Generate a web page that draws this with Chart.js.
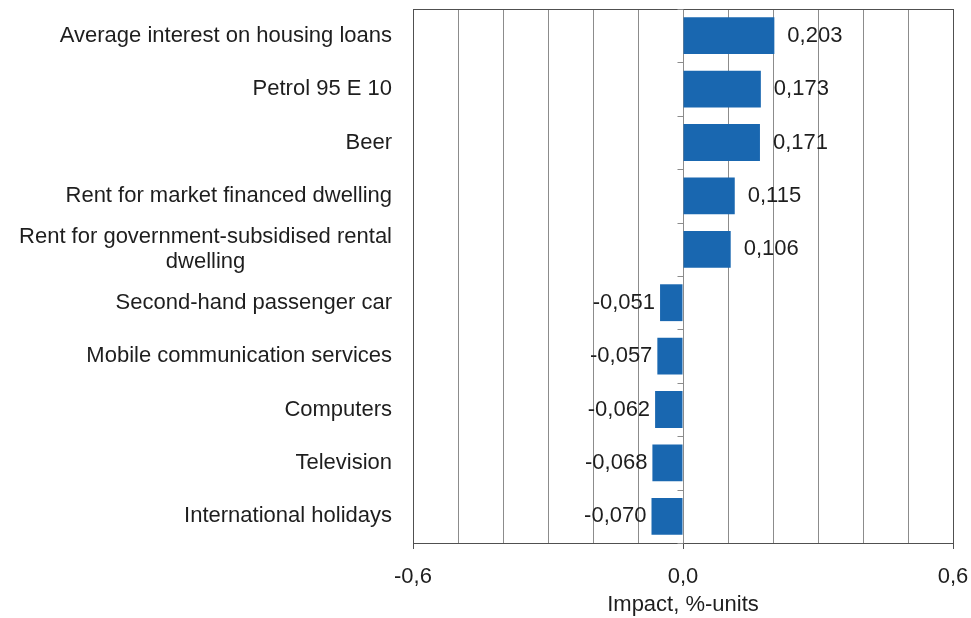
<!DOCTYPE html>
<html>
<head>
<meta charset="utf-8">
<script src="https://cdn.jsdelivr.net/npm/chart.js@4/dist/chart.umd.min.js"></script>
<style>
  body { margin: 0; background: #fff; }
</style>
</head>
<body>
<canvas id="myChart" width="971" height="618"></canvas>
<script>
// data block
const categories = [
  ["Average interest on housing loans"],
  ["Petrol 95 E 10"],
  ["Beer"],
  ["Rent for market financed dwelling"],
  ["Rent for government-subsidised rental", "dwelling"],
  ["Second-hand passenger car"],
  ["Mobile communication services"],
  ["Computers"],
  ["Television"],
  ["International holidays"],
];
const impacts = [0.203, 0.173, 0.171, 0.115, 0.106, -0.051, -0.057, -0.062, -0.068, -0.070];
const labeledTicks = [-0.6, 0, 0.6];
const labeledTickText = ["-0,6", "0,0", "0,6"];

const FONT = "'Liberation Sans', Arial, sans-serif";
const TEXT = "#1e1e1e";

function tickLabel(v) {
  const i = labeledTicks.findIndex((t) => Math.abs(t - v) < 1e-9);
  return i >= 0 ? labeledTickText[i] : "";
}

// plugin - frame, category labels, value labels
const decorations = {
  id: "decorations",
  afterDraw(chart) {
    const ctx = chart.ctx;
    const area = chart.chartArea;
    const x = chart.scales.x;
    const y = chart.scales.y;
    ctx.save();

    // plot frame
    ctx.strokeStyle = "#505050";
    ctx.lineWidth = 1;
    ctx.strokeRect(Math.round(area.left) + 0.5, Math.round(area.top) + 0.5,
      Math.round(area.right - area.left), Math.round(area.bottom - area.top));

    // small category ticks on zero line
    const zx = Math.round(x.getPixelForValue(0)) + 0.5;
    ctx.strokeStyle = "#8c8c8c";
    ctx.beginPath();
    for (let i = 0; i <= categories.length; i++) {
      const yy = Math.round(y.getPixelForValue(i - 0.5)) + 0.5;
      ctx.moveTo(zx - 6, yy);
      ctx.lineTo(zx, yy);
    }
    ctx.stroke();

    // category labels
    ctx.font = "22px " + FONT;
    ctx.fillStyle = TEXT;
    ctx.textBaseline = "middle";
    ctx.textAlign = "center";
    const right = area.left - 21;
    categories.forEach((lines, i) => {
      const cy = y.getPixelForValue(i);
      const w = Math.max(...lines.map((l) => ctx.measureText(l).width));
      const cx = right - w / 2;
      const lh = 25;
      lines.forEach((l, j) => {
        ctx.fillText(l, cx, cy + (j - (lines.length - 1) / 2) * lh);
      });
    });

    // value labels
    const meta = chart.getDatasetMeta(0);
    meta.data.forEach((bar, i) => {
      const v = impacts[i];
      const txt = v.toFixed(3).replace(".", ",");
      if (v >= 0) {
        ctx.textAlign = "left";
        ctx.fillText(txt, bar.x + 13, bar.y);
      } else {
        ctx.textAlign = "right";
        ctx.fillText(txt, bar.x - 5, bar.y);
      }
    });
    ctx.restore();
  },
};

// config block
const config = {
  type: "bar",
  data: {
    labels: categories.map((c) => c.join(" ")),
    datasets: [
      {
        data: impacts,
        backgroundColor: "#1967b0",
        borderWidth: 0,
        barPercentage: 0.69,
        categoryPercentage: 1,
      },
    ],
  },
  options: {
    indexAxis: "y",
    responsive: false,
    animation: false,
    devicePixelRatio: 1,
    layout: { padding: { left: 405, right: 18, top: 9, bottom: 0 } },
    plugins: {
      legend: { display: false },
      tooltip: { enabled: false },
    },
    scales: {
      x: {
        min: -0.6,
        max: 0.6,
        afterFit: (scale) => {
          scale.height = 75;
          scale.paddingLeft = 0;
          scale.paddingRight = 0;
        },
        ticks: {
          stepSize: 0.1,
          autoSkip: false,
          maxRotation: 0,
          padding: 15,
          color: TEXT,
          font: { family: FONT, size: 22 },
          callback: (v) => tickLabel(v),
        },
        grid: {
          color: "#8c8c8c",
          tickLength: 6,
          tickColor: (c) => (c.tick && tickLabel(c.tick.value) !== "" ? "#505050" : "rgba(0,0,0,0)"),
        },
        border: { color: "#505050" },
        title: {
          display: true,
          text: "Impact, %-units",
          color: TEXT,
          font: { family: FONT, size: 22 },
          padding: { top: 4, bottom: 0 },
        },
      },
      y: {
        ticks: { display: false },
        grid: { display: false },
        border: { color: "#505050" },
      },
    },
  },
  plugins: [decorations],
};

// render init block
const myChart = new Chart(document.getElementById("myChart"), config);
</script>
</body>
</html>
